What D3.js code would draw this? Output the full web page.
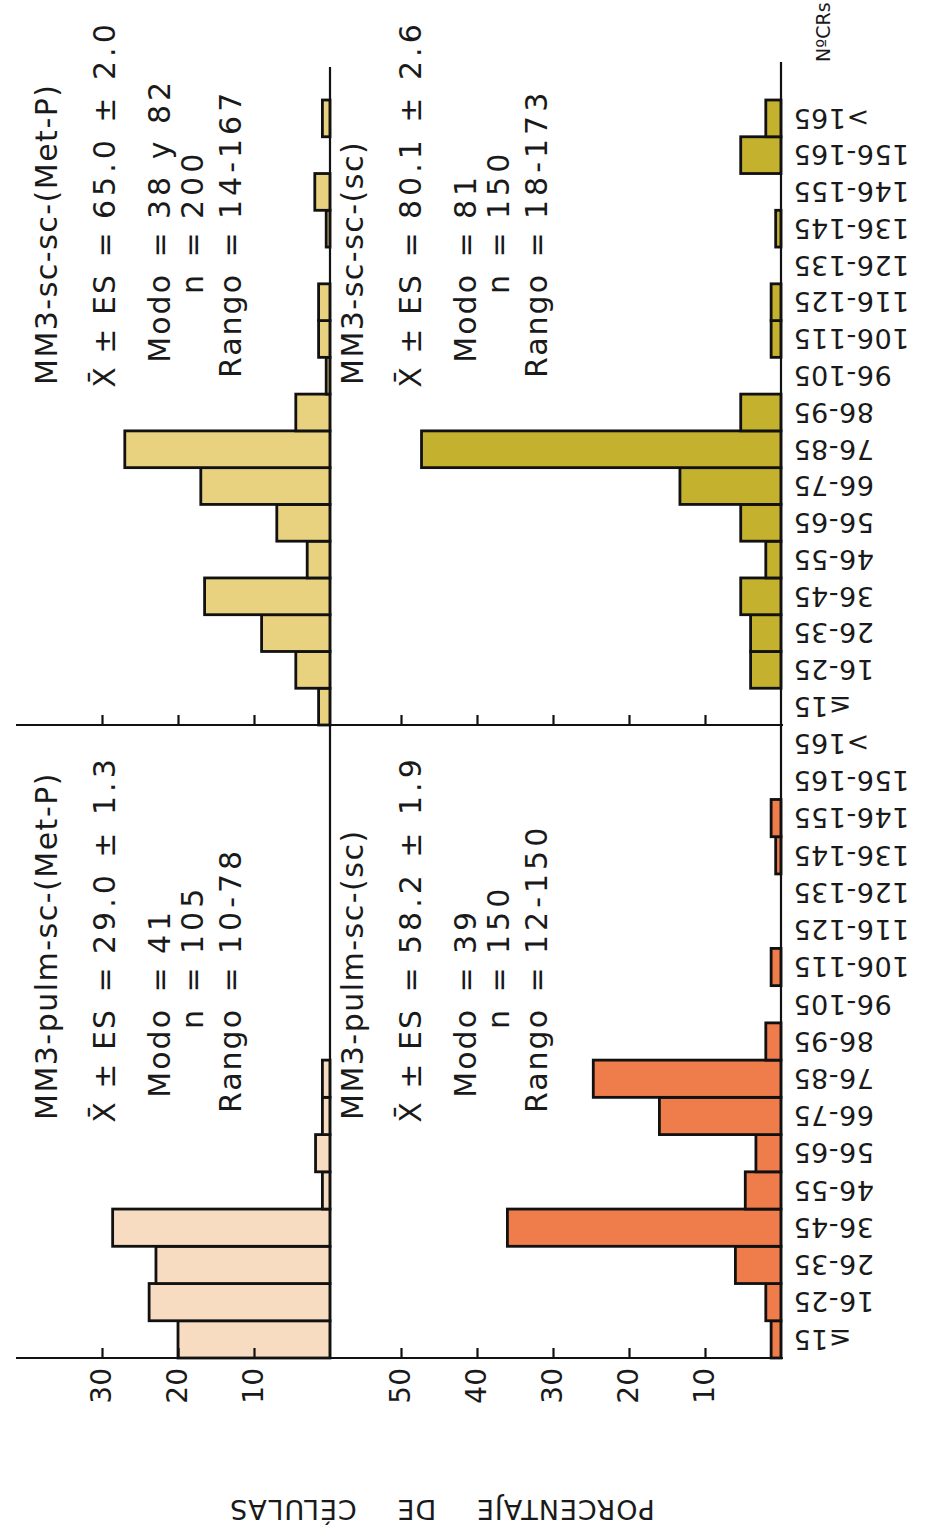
<!DOCTYPE html>
<html>
<head>
<meta charset="utf-8">
<script src="https://cdn.jsdelivr.net/npm/d3@7"></script>
<style>
  html, body { margin: 0; padding: 0; background: #fff; }
  svg { display: block; }
  text { font-family: "DejaVu Sans", sans-serif; fill: #1a1a1a; }
</style>
</head>
<body>
<div id="chart"></div>
<script>
// ---------- DATA ----------
const categories = ["≤15","16-25","26-35","36-45","46-55","56-65","66-75","76-85","86-95","96-105","106-115","116-125","126-135","136-145","146-155","156-165",">165"];

// percentage of cells per chromosome-number class
const pulmMetP = [20.0, 23.8, 22.9, 28.6, 1.0, 1.9, 1.0, 1.0, 0, 0, 0, 0, 0, 0, 0, 0, 0];
const pulmSc   = [1.3, 2.0, 6.0, 36.0, 4.7, 3.3, 16.0, 24.7, 2.0, 0, 1.3, 0, 0, 0.7, 1.3, 0, 0];
const scscMetP = [1.5, 4.5, 9.0, 16.5, 3.0, 7.0, 17.0, 27.0, 4.5, 0.5, 1.5, 1.5, 0, 0.5, 2.0, 0, 1.0];
const scscSc   = [0, 4.0, 4.0, 5.3, 2.0, 5.3, 13.3, 47.3, 5.3, 0, 1.3, 1.3, 0, 0.7, 0, 5.3, 2.0];

const topTicks = [10, 20, 30];
const bottomTicks = [10, 20, 30, 40, 50];

const panelTitles = ["MM3-pulm-sc-(Met-P)", "MM3-pulm-sc-(sc)", "MM3-sc-sc-(Met-P)", "MM3-sc-sc-(sc)"];
const statMeans  = ["29.0 ± 1.3", "58.2 ± 1.9", "65.0 ± 2.0", "80.1 ± 2.6"];
const statModes  = ["41", "39", "38 y 82", "81"];
const statN      = ["105", "150", "200", "150"];
const statRanges = ["10-78", "12-150", "14-167", "18-173"];
const statLabels = ["X\u0304 ± ES", "Modo", "n", "Rango"];

const yAxisTitle = "PORCENTAJE DE CÉLULAS";
const xAxisTitle = "NºCRs";

// ---------- LAYOUT (original landscape orientation, then rotated) ----------
const W = 938, H = 1530;     // page
const colLeft = [172, 805], colRight = [805, 1430];
const topBase = 330, botBase = 781;
const pxPerUnit = 7.6;

const svg = d3.select("#chart").append("svg").attr("width", W).attr("height", H);
svg.append("rect").attr("width", W).attr("height", H).attr("fill", "#fff");
const g = svg.append("g").attr("transform", `translate(0,${H}) rotate(-90)`);

const xL = d3.scaleBand().domain(categories).range(colLeft).paddingInner(0).paddingOuter(0);
const xR = d3.scaleBand().domain(categories).range(colRight).paddingInner(0).paddingOuter(0);
const yTop = d3.scaleLinear().domain([0, 40]).range([topBase, topBase - 40 * pxPerUnit]);
const yBot = d3.scaleLinear().domain([0, 50]).range([botBase, botBase - 50 * pxPerUnit]);

const panels = [
  { x: xL, y: yTop, data: pulmMetP, fill: "#f8dcc2" },
  { x: xL, y: yBot, data: pulmSc,   fill: "#ef7c4b" },
  { x: xR, y: yTop, data: scscMetP, fill: "#e8d27f" },
  { x: xR, y: yBot, data: scscSc,   fill: "#c4b22e" }
];

panels.forEach(p => {
  const rows = categories.map((c, i) => ({ c, v: p.data[i] })).filter(d => d.v > 0);
  g.append("g").selectAll("rect").data(rows).join("rect")
    .attr("x", d => p.x(d.c))
    .attr("width", p.x.bandwidth())
    .attr("y", d => p.y(d.v))
    .attr("height", d => p.y(0) - p.y(d.v))
    .attr("fill", p.fill)
    .attr("stroke", "#111")
    .attr("stroke-width", 2.8)
    .attr("stroke-linejoin", "miter");
});

// category baselines
g.append("line").attr("x1", 172).attr("x2", 1463).attr("y1", topBase).attr("y2", topBase)
  .attr("stroke", "#111").attr("stroke-width", 2.2);
g.append("line").attr("x1", 172).attr("x2", 1468).attr("y1", botBase).attr("y2", botBase)
  .attr("stroke", "#111").attr("stroke-width", 2.2);

// value axes
function valueAxis(u, withLabels) {
  const ag = g.append("g").attr("transform", `translate(${u},0)`);
  const aT = d3.axisLeft(yTop).tickValues(topTicks).tickSizeInner(-10).tickSizeOuter(0).tickPadding(10);
  const aB = d3.axisLeft(yBot).tickValues(bottomTicks).tickSizeInner(-10).tickSizeOuter(0).tickPadding(10);
  if (!withLabels) { aT.tickFormat(""); aB.tickFormat(""); }
  [aT, aB].forEach(a => {
    const s = ag.append("g").call(a);
    s.select(".domain").remove();
    s.selectAll(".tick line").attr("stroke", "#111").attr("stroke-width", 2.2);
    s.selectAll(".tick text").attr("font-size", 28).attr("fill", "#1a1a1a")
      .attr("font-family", "DejaVu Sans, sans-serif");
  });
  ag.append("line").attr("x1", 0).attr("x2", 0).attr("y1", 16).attr("y2", botBase + 2)
    .attr("stroke", "#111").attr("stroke-width", 2.2);
}
valueAxis(172, true);
valueAxis(805, false);

// category labels
[xL, xR].forEach(sc => {
  g.append("g").selectAll("text").data(categories).join("text")
    .attr("transform", d => `translate(${sc(d) + sc.bandwidth() / 2},${botBase + 12}) rotate(-90)`)
    .attr("dy", "0.36em")
    .attr("text-anchor", "end")
    .attr("font-size", 27)
    .attr("letter-spacing", 0.5)
    .text(d => d);
});

// x axis title
g.append("text").attr("x", 1468).attr("y", 830).attr("font-size", 19).text(xAxisTitle);

// y axis title
g.append("text")
  .attr("transform", `translate(30,${442}) rotate(-90)`)
  .attr("text-anchor", "middle")
  .attr("font-size", 27)
  .attr("letter-spacing", 1)
  .attr("word-spacing", 30)
  .text(yAxisTitle);

// stats blocks
const blockU0 = [410, 410, 1145, 1145];
const blockRowOff = [0, 306, 0, 306];
const lineV = [57, 115, 170, 203, 241];
panelTitles.forEach((t, i) => {
  const u0 = blockU0[i], off = blockRowOff[i];
  const b = g.append("g");
  b.append("text").attr("x", u0).attr("y", lineV[0] + off)
    .attr("font-size", 30).attr("letter-spacing", 1.5).text(t);
  const vals = [statMeans[i], statModes[i], statN[i], statRanges[i]];
  statLabels.forEach((lab, j) => {
    const v = lineV[j + 1] + off;
    b.append("text").attr("x", u0 + 112).attr("y", v).attr("text-anchor", "end")
      .attr("font-size", 30).attr("letter-spacing", 2).text(lab);
    b.append("text").attr("x", u0 + 140).attr("y", v).attr("text-anchor", "middle")
      .attr("font-size", 30).text("=");
    b.append("text").attr("x", u0 + 166).attr("y", v)
      .attr("font-size", 30).attr("letter-spacing", 4).text(vals[j]);
  });
});
</script>
</body>
</html>
